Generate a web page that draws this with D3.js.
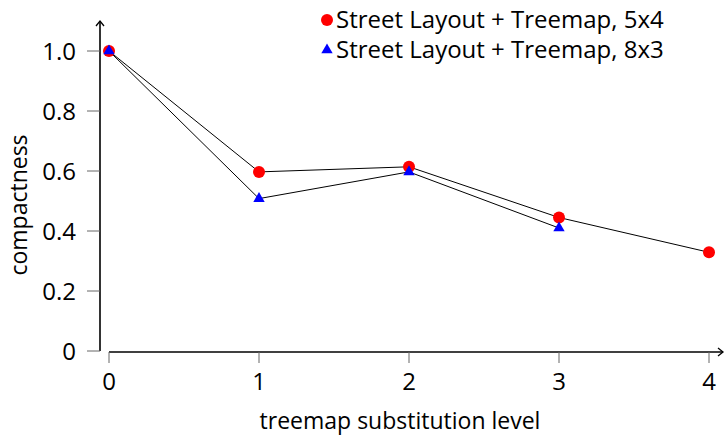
<!DOCTYPE html>
<html>
<head>
<meta charset="utf-8">
<script src="https://cdn.jsdelivr.net/npm/d3@7"></script>
<style>
  body { margin: 0; background: #fff; }
  svg { display: block; font-family: "Open Sans", "DejaVu Sans", sans-serif; }
</style>
</head>
<body>
<div class="grafico-d3"><svg class="grafico-d3-svg"></svg></div>
<script>
// dados
const niveis = [0, 1, 2, 3, 4];
const serie5x4 = [1.0, 0.597, 0.614, 0.445, 0.329];
const serie8x3 = [1.0, 0.508, 0.597, 0.410];
const ticksY = [0, 0.2, 0.4, 0.6, 0.8, 1.0];
const rotulosY = ['0', '0.2', '0.4', '0.6', '0.8', '1.0'];
const nomes = ['Street Layout + Treemap, 5x4', 'Street Layout + Treemap, 8x3'];

const W = 725, H = 438;
const FONTE = 24;
const FONTE_TITULO = 23;

const $svg = d3.select('.grafico-d3-svg').attr('width', W).attr('height', H);

const x = d3.scaleLinear().domain([0, 4]).range([109, 709]);
const y = d3.scaleLinear().domain([0, 1]).range([351, 51]);

// eixo y (linha separada, à esquerda do x)
const EIXO_Y_X = 100;
$svg.append('line')
    .attr('x1', EIXO_Y_X).attr('x2', EIXO_Y_X)
    .attr('y1', y(0)).attr('y2', 21)
    .attr('stroke', '#000').attr('stroke-width', 1.6);
$svg.append('path')
    .attr('d', `M${EIXO_Y_X - 4},26 L${EIXO_Y_X},21 L${EIXO_Y_X + 4},26`)
    .attr('fill', 'none').attr('stroke', '#000').attr('stroke-width', 1.3);

const $ty = $svg.append('g').selectAll('g')
    .data(ticksY)
    .enter().append('g')
    .attr('transform', d => `translate(0,${y(d)})`);
$ty.append('line')
    .attr('x1', EIXO_Y_X - 13).attr('x2', EIXO_Y_X)
    .attr('stroke', '#666').attr('stroke-width', 1);
$ty.append('text')
    .attr('x', 76).attr('dy', '0.36em')
    .attr('text-anchor', 'end')
    .attr('font-size', FONTE)
    .text((d, i) => rotulosY[i]);

// eixo x
const EIXO_X_Y = 352;
$svg.append('line')
    .attr('x1', x(0)).attr('x2', 723)
    .attr('y1', EIXO_X_Y).attr('y2', EIXO_X_Y)
    .attr('stroke', '#000').attr('stroke-width', 1.6);
$svg.append('path')
    .attr('d', `M718,${EIXO_X_Y - 4} L723,${EIXO_X_Y} L718,${EIXO_X_Y + 4}`)
    .attr('fill', 'none').attr('stroke', '#000').attr('stroke-width', 1.3);

const $tx = $svg.append('g').selectAll('g')
    .data(niveis)
    .enter().append('g')
    .attr('transform', d => `translate(${x(d)},0)`);
$tx.append('line')
    .attr('y1', EIXO_X_Y).attr('y2', EIXO_X_Y + 11)
    .attr('stroke', '#666').attr('stroke-width', 1);
$tx.append('text')
    .attr('y', 390)
    .attr('text-anchor', 'middle')
    .attr('font-size', FONTE)
    .text(d => d);

// títulos dos eixos
$svg.append('text')
    .attr('x', 400).attr('y', 429)
    .attr('text-anchor', 'middle')
    .attr('font-size', FONTE_TITULO)
    .text('treemap substitution level');
$svg.append('text')
    .attr('transform', 'translate(27,205) rotate(-90)')
    .attr('text-anchor', 'middle')
    .attr('font-size', FONTE_TITULO)
    .text('compactness');

// linhas
const linha = d3.line()
    .x((d, i) => x(niveis[i]))
    .y(d => y(d));

[serie5x4, serie8x3].forEach(s => {
    $svg.append('path')
        .attr('d', linha(s))
        .attr('fill', 'none')
        .attr('stroke', '#000')
        .attr('stroke-width', 1);
});

// marcadores
const triangulo = d3.symbol().type(d3.symbolTriangle).size(56);

$svg.append('g').selectAll('circle')
    .data(serie5x4)
    .enter().append('circle')
    .attr('cx', (d, i) => x(niveis[i]))
    .attr('cy', d => y(d))
    .attr('r', 6)
    .attr('fill', '#f00');

$svg.append('g').selectAll('path')
    .data(serie8x3)
    .enter().append('path')
    .attr('d', triangulo)
    .attr('transform', (d, i) => `translate(${x(niveis[i])},${y(d)})`)
    .attr('fill', '#00f');

// legenda
const $leg = $svg.append('g');
$leg.append('circle').attr('cx', 327).attr('cy', 20).attr('r', 6).attr('fill', '#f00');
$leg.append('path').attr('d', triangulo).attr('transform', 'translate(327,50)').attr('fill', '#00f');
$leg.selectAll('text')
    .data(nomes)
    .enter().append('text')
    .attr('x', 336)
    .attr('y', (d, i) => 28 + i * 30)
    .attr('font-size', FONTE)
    .text(d => d);
</script>
</body>
</html>
